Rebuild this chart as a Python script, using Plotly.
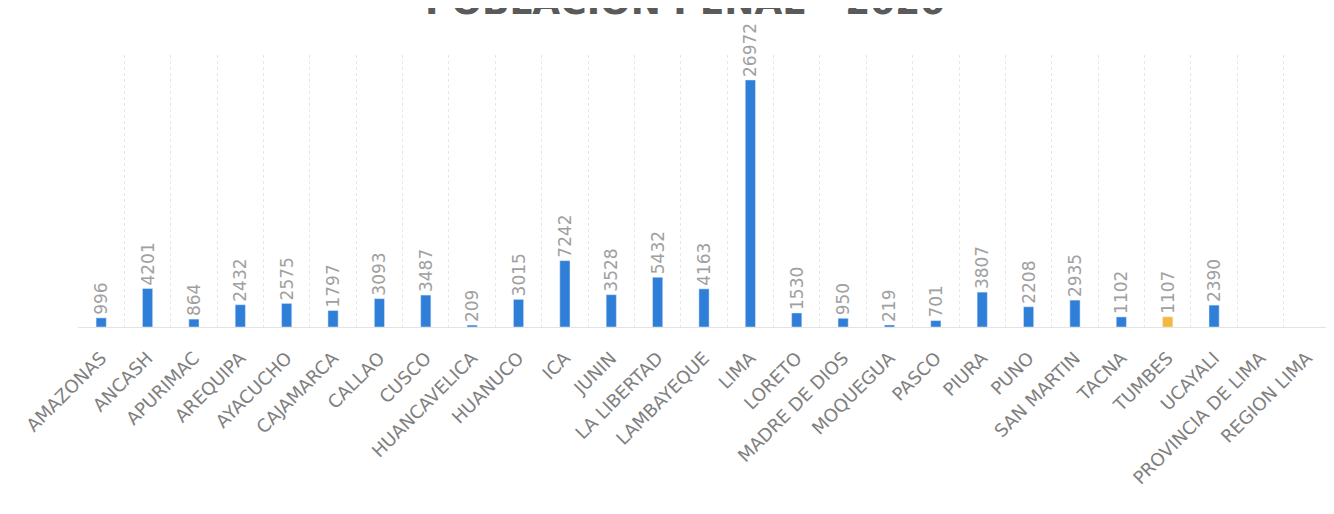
import plotly.graph_objects as go

categories = ["AMAZONAS", "ANCASH", "APURIMAC", "AREQUIPA", "AYACUCHO", "CAJAMARCA",
              "CALLAO", "CUSCO", "HUANCAVELICA", "HUANUCO", "ICA", "JUNIN",
              "LA LIBERTAD", "LAMBAYEQUE", "LIMA", "LORETO", "MADRE DE DIOS",
              "MOQUEGUA", "PASCO", "PIURA", "PUNO", "SAN MARTIN", "TACNA",
              "TUMBES", "UCAYALI", "PROVINCIA DE LIMA", "REGION LIMA"]
values = [996, 4201, 864, 2432, 2575, 1797, 3093, 3487, 209, 3015, 7242, 3528,
          5432, 4163, 26972, 1530, 950, 219, 701, 3807, 2208, 2935, 1102,
          1107, 2390, None, None]
highlight = "TUMBES"
title_text = "POBLACIÓN PENAL - 2020"

colors = ["#f5b83d" if c == highlight else "#2f7fd8" for c in categories]
texts = ["" if v is None else str(v) for v in values]

fig = go.Figure(go.Bar(
    x=categories, y=values, marker_color=colors, width=0.22,
    text=texts, textposition="outside", textangle=-90, constraintext="none",
    textfont=dict(family="DejaVu Sans", size=17, color="#a0a0a0"),
    cliponaxis=False,
))

fig.add_annotation(
    text="<b>" + title_text + "</b>", xref="paper", yref="paper",
    x=0.485, y=1.195, xanchor="center", yanchor="middle", showarrow=False,
    font=dict(family="DejaVu Sans", size=36, color="#5a5a5a"),
)

fig.update_layout(
    width=1326, height=506,
    margin=dict(l=70, r=4, t=47, b=187),
    plot_bgcolor="white", paper_bgcolor="white",
    showlegend=False,
    xaxis=dict(tickangle=-45, tickson="boundaries", showgrid=True,
               gridcolor="#e6e6e6", griddash="dot", ticks="",
               ticklabelstandoff=16,
               tickfont=dict(family="DejaVu Sans", size=18, color="#808080"),
               showline=False),
    yaxis=dict(range=[0, 29700], showticklabels=False, showgrid=False,
               zeroline=True, zerolinecolor="#e3e3e3", zerolinewidth=1),
)

fig.write_html("out.html")
